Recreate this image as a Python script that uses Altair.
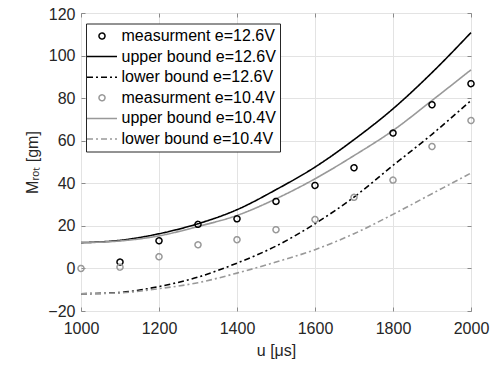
import altair as alt
import pandas as pd

u = [1000, 1100, 1200, 1300, 1400, 1500, 1600, 1700, 1800, 1900, 2000]
meas_126 = [None, 3.0, 13.0, 20.7, 23.3, 31.5, 39.0, 47.3, 63.6, 76.9, 86.8]
meas_104 = [0.0, 0.6, 5.5, 11.1, 13.5, 18.2, 23.0, 33.4, 41.5, 57.3, 69.5]
upper_126 = [12.1, 13.2, 16.3, 21.0, 27.6, 37.0, 47.6, 60.5, 75.0, 92.0, 110.8]
upper_104 = [12.1, 12.9, 15.3, 19.7, 24.9, 32.7, 42.1, 53.0, 64.8, 78.9, 93.3]
lower_126 = [-11.9, -11.3, -8.5, -4.1, 2.5, 10.5, 21.0, 33.5, 48.4, 63.0, 78.9]
lower_104 = [-11.9, -11.5, -9.5, -6.7, -2.2, 3.0, 8.8, 16.3, 25.4, 35.1, 44.8]

names = [
    "measurment e=12.6V", "upper bound e=12.6V", "lower bound e=12.6V",
    "measurment e=10.4V", "upper bound e=10.4V", "lower bound e=10.4V",
]
colors = ["#000000", "#000000", "#000000", "#999999", "#999999", "#999999"]
dashes = [[1, 0], [1, 0], [6, 3, 2, 3], [1, 0], [1, 0], [6, 3, 2, 3]]
CIRCLE = "M0.4,0A0.4,0.4,0,1,1,-0.4,0A0.4,0.4,0,1,1,0.4,0Z"
LINE = "M-2,0H2"
shapes = [CIRCLE, LINE, LINE, CIRCLE, LINE, LINE]

series_vals = [meas_126, upper_126, lower_126, meas_104, upper_104, lower_104]
rows = []
for name, vals in zip(names, series_vals):
    for x, y in zip(u, vals):
        if y is not None:
            rows.append({"u": x, "M": y, "series": name})
df = pd.DataFrame(rows)
pts = df[df.series.str.startswith("meas")]
lns = df[~df.series.str.startswith("meas")]
line_names = [n for n in names if not n.startswith("meas")]
line_colors = [c for n, c in zip(names, colors) if not n.startswith("meas")]
line_dashes = [d for n, d in zip(names, dashes) if not n.startswith("meas")]

xscale = alt.Scale(domain=[1000, 2000], nice=False)
yscale = alt.Scale(domain=[-20, 120], nice=False)
xticks = [1000, 1200, 1400, 1600, 1800, 2000]
yticks = [-20, 0, 20, 40, 60, 80, 100, 120]

lines = alt.Chart(lns).mark_line(strokeWidth=1.6, interpolate="monotone").encode(
    x=alt.X("u:Q", scale=xscale, axis=alt.Axis(
        title="u [μs]", values=xticks, format="d", labelFlush=False,
        offset=-4, tickSize=4, domain=False, labelPadding=9,
        titleBaseline="alphabetic", titleY=48)),
    y=alt.Y("M:Q", scale=yscale, axis=alt.Axis(
        title="Mᵣₒₜ [gm]", values=yticks, labelFlush=False,
        labelOffset={"condition": {"test": "datum.value == 120", "value": 1.5}, "value": 0},
        offset=-4, tickSize=4, domain=False, labelPadding=6,
        titleBaseline="alphabetic", titleX=-48)),
    color=alt.Color("series:N", scale=alt.Scale(domain=line_names, range=line_colors), legend=None),
    strokeDash=alt.StrokeDash("series:N", scale=alt.Scale(domain=line_names, range=line_dashes), legend=None),
)

leg = alt.Legend(title=None, orient="none", legendX=5, legendY=10.5)
points = alt.Chart(pts).mark_point(filled=False, strokeWidth=1.5, opacity=1, size=225).encode(
    x=alt.X("u:Q", scale=xscale, axis=alt.Axis(
        orient="top", labels=False, title=None, grid=False, domain=False,
        offset=-4, tickSize=4, values=xticks)),
    y=alt.Y("M:Q", scale=yscale, axis=alt.Axis(
        orient="right", labels=False, title=None, grid=False, domain=False,
        offset=-4, tickSize=4, values=yticks)),
    color=alt.Color("series:N", scale=alt.Scale(domain=names, range=colors), legend=leg),
    shape=alt.Shape("series:N", scale=alt.Scale(domain=names, range=shapes), legend=leg),
    strokeDash=alt.StrokeDash("series:N", scale=alt.Scale(domain=names, range=dashes), legend=leg),
)

chart = alt.layer(lines, points).resolve_scale(
    color="independent", strokeDash="independent", shape="independent"
).resolve_axis(x="independent", y="independent").properties(
    width=390, height=298,
    autosize=alt.AutoSizeParams(type="none"),
    padding={"left": 73, "top": 5, "right": 19, "bottom": 51},
).configure_view(stroke="#8a8a8a", strokeWidth=1).configure_axis(
    gridColor="#e3e3e3", gridWidth=1, tickColor="#8a8a8a", tickWidth=1,
    labelFont="Liberation Sans", labelFontSize=16, labelColor="#262626",
    titleFont="Liberation Sans", titleFontSize=16, titleColor="#262626", titleFontWeight="normal",
).configure_legend(
    labelFont="Liberation Sans", labelFontSize=16, labelColor="#000000",
    fillColor="#ffffff", strokeColor="#262626", padding=4, rowPadding=3.6,
    symbolOffset=3.5, labelOffset=11, symbolStrokeWidth=1.5, symbolSize=225,
)

chart.save("out.html", embed_options={"renderer": "svg", "actions": False})
